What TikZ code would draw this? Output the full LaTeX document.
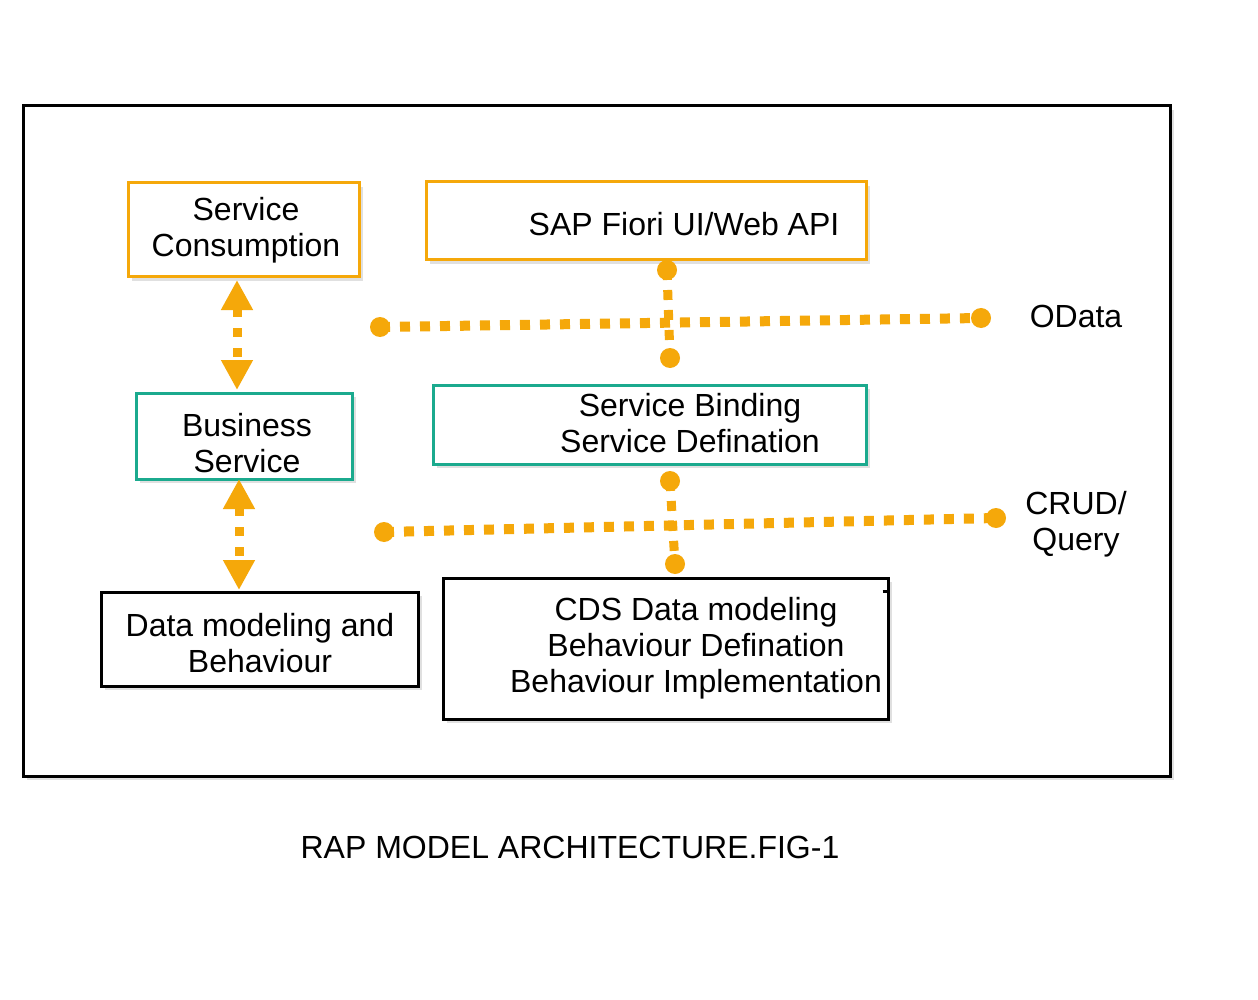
\documentclass[tikz,border=0pt]{standalone}
\usepackage{fontspec}
\setmainfont{Liberation Sans}
\usetikzlibrary{arrows.meta}
\definecolor{rapor}{HTML}{F5A80A}
\definecolor{rapteal}{HTML}{1BAA8E}
\tikzset{
  boxbase/.style={rectangle, line width=3pt, inner sep=0pt, fill=white},
  orbox/.style={boxbase, draw=rapor},
  tealbox/.style={boxbase, draw=rapteal},
  blkbox/.style={boxbase, draw=black},
  shad/.style={fill=black, opacity=0.12},
  txt/.style={font=\fontsize{32}{36}\selectfont, anchor=base, inner sep=0pt},
  dotline/.style={draw=rapor, line width=10pt, dash pattern=on 10pt off 10pt},
  endpt/.style={circle, fill=rapor, minimum size=20pt, inner sep=0pt},
  dblarrow/.style={draw=rapor, line width=9pt, dash pattern=on 9pt off 11pt,
     {Triangle[length=30pt,width=30pt]}-{Triangle[length=30pt,width=30pt]}},
}
\begin{document}
\begin{tikzpicture}[x=1pt,y=-1pt]
\useasboundingbox (0,0) rectangle (1258,1000);
\fill[white] (0,0) rectangle (1258,1000);
% outer frame
\fill[shad] (27,110) rectangle (1174,780);
\draw[line width=3pt, fill=white] (23,106) rectangle (1170,776);

% box shadows
\fill[shad] (132,187) rectangle (363,281);
\fill[shad] (430,186) rectangle (870,264);
\fill[shad] (140,397) rectangle (356,483);
\fill[shad] (437,389) rectangle (870,468);
\fill[shad] (105,596) rectangle (422,690);
\fill[shad] (447,582) rectangle (892,723);

% boxes
\node[orbox, minimum width=231pt, minimum height=94pt] (sc) at (243.5,230) {};
\node[orbox, minimum width=440pt, minimum height=78pt] (sap) at (646,221) {};
\node[tealbox, minimum width=216pt, minimum height=86pt] (bs) at (244,436) {};
\node[tealbox, minimum width=433pt, minimum height=79pt] (sb) at (649.5,424.5) {};
\node[blkbox, minimum width=317pt, minimum height=94pt] (dm) at (259.5,639) {};
\node[blkbox, minimum width=445pt, minimum height=141pt] (cds) at (665.5,648.5) {};
\draw[line width=3pt] ([xshift=-7pt,yshift=-15pt]cds.north east) -- ([yshift=-15pt]cds.north east);

% texts
\node[txt] (t1) at (246,221) {Service};
\node[txt] (t2) at (246,257) {Consumption};
\node[txt] (t3) at (684,236) {SAP Fiori UI/Web API};
\node[txt] (t4) at (247,436) {Business};
\node[txt] (t5) at (247,472) {Service};
\node[txt] (t6) at (690,416) {Service Binding};
\node[txt] (t7) at (690,452) {Service Defination};
\node[txt] (t8) at (260,636) {Data modeling and};
\node[txt] (t9) at (260,672) {Behaviour};
\node[txt] (t10) at (696,620) {CDS Data modeling};
\node[txt] (t11) at (696,656) {Behaviour Defination};
\node[txt] (t12) at (696,692) {Behaviour Implementation};
\node[txt] (t13) at (1076,327) {OData};
\node[txt] (t14) at (1076,514) {CRUD/};
\node[txt] (t15) at (1076,550) {Query};
\node[txt] (cap) at (570,858) {RAP MODEL ARCHITECTURE.FIG-1};

% dotted OData lines
\node[endpt] (oa) at (380,327) {};
\node[endpt] (ob) at (981,318) {};
\node[endpt] (oc) at (667,270) {};
\node[endpt] (od) at (670,358) {};
\draw[dotline] (oa.center) -- (ob.center);
\draw[dotline, line width=9pt] (oc.center) -- (od.center);

% dotted CRUD lines
\node[endpt] (ca) at (384,532) {};
\node[endpt] (cb) at (996,518) {};
\node[endpt] (cc) at (670,481) {};
\node[endpt] (cd) at (675,564) {};
\draw[dotline] (ca.center) -- (cb.center);
\draw[dotline, line width=9pt] (cc.center) -- (cd.center);

% double arrows
\draw[dblarrow] (237,280) -- (237,390);
\draw[dblarrow] (239,479) -- (239,590);
\end{tikzpicture}
\end{document}
